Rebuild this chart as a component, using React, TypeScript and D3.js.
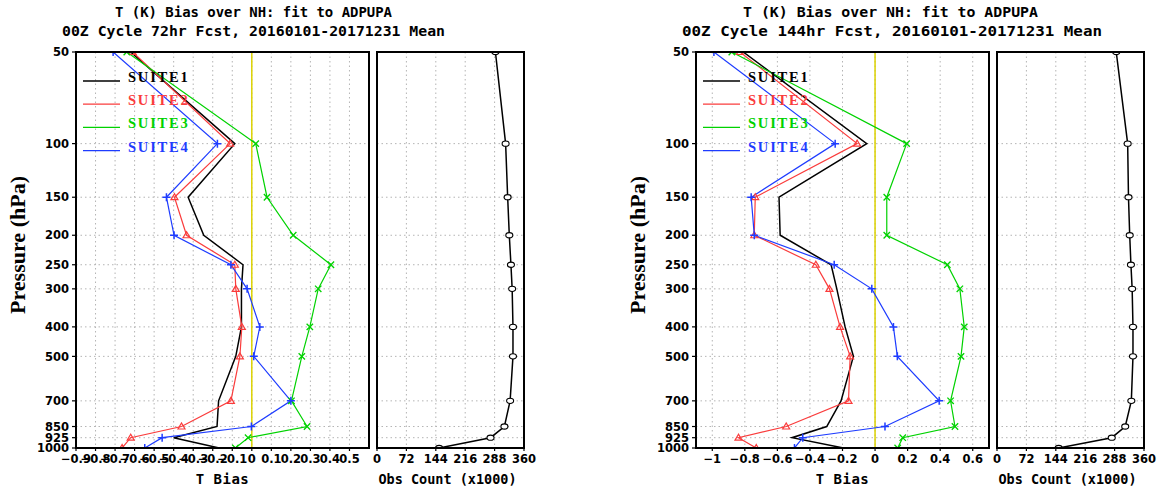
import React from 'react';
import * as d3 from 'd3';

const levels = [50, 100, 150, 200, 250, 300, 400, 500, 700, 850, 925, 1000];
const suiteNames = ['SUITE1', 'SUITE2', 'SUITE3', 'SUITE4'];
const suiteColors = ['#000000', '#fa3c3c', '#00d200', '#1e3cff'];

// 72hr forecast biases (K)
const suite1_72 = [-0.62, -0.087, -0.326, -0.246, -0.045, -0.053, -0.053, -0.082, -0.17, -0.178, -0.40, -0.167];
const suite2_72 = [-0.61, -0.111, -0.396, -0.334, -0.087, -0.082, -0.051, -0.061, -0.107, -0.36, -0.62, -0.664];
const suite3_72 = [-0.64, 0.02, 0.078, 0.212, 0.405, 0.34, 0.297, 0.256, 0.203, 0.283, -0.019, -0.084];
const suite4_72 = [-0.71, -0.176, -0.437, -0.398, -0.107, -0.024, 0.041, 0.010, 0.20, -0.002, -0.459, -0.548];
const obs_72 = [290, 315, 320, 324, 328, 331, 333, 333, 326, 312, 278, 152];

// 144hr forecast biases (K)
const suite1_144 = [-0.81, -0.051, -0.59, -0.583, -0.27, -0.235, -0.184, -0.133, -0.209, -0.297, -0.51, -0.194];
const suite2_144 = [-0.83, -0.11, -0.736, -0.742, -0.364, -0.28, -0.215, -0.153, -0.163, -0.546, -0.839, -0.73];
const suite3_144 = [-0.88, 0.194, 0.072, 0.072, 0.444, 0.521, 0.548, 0.528, 0.464, 0.491, 0.17, 0.139];
const suite4_144 = [-0.99, -0.245, -0.761, -0.742, -0.251, -0.02, 0.113, 0.137, 0.394, 0.061, -0.444, -0.495];
const obs_144 = [292, 320, 322, 325, 328, 331, 333, 333, 329, 314, 281, 151];

const xTicks72 = [-0.9, -0.8, -0.7, -0.6, -0.5, -0.4, -0.3, -0.2, -0.1, 0, 0.1, 0.2, 0.3, 0.4, 0.5];
const xTicks144 = [-1, -0.8, -0.6, -0.4, -0.2, 0, 0.2, 0.4, 0.6];
const obsTicks = [0, 72, 144, 216, 288, 360];

const title1 = 'T (K) Bias over NH: fit to ADPUPA';
const title2_72 = '00Z Cycle 72hr Fcst, 20160101-20171231 Mean';
const title2_144 = '00Z Cycle 144hr Fcst, 20160101-20171231 Mean';

const MONO = '"DejaVu Sans Mono", monospace';
const TICK = '"DejaVu Sans", sans-serif';
const SERIF = '"Liberation Serif", "DejaVu Serif", serif';

function fmt(v: number): string {
  if (Math.abs(v) < 1e-9) return '0';
  const s = String(+v.toFixed(1));
  return s.replace('-', '\u2212');
}

function Marker({ kind, x, y, color }: { kind: number; x: number; y: number; color: string }) {
  if (kind === 1) {
    return <path d={`M${x},${y - 3.5}L${x - 3.5},${y + 2.5}L${x + 3.5},${y + 2.5}Z`} fill="none" stroke={color} strokeWidth={1.2} />;
  }
  if (kind === 2) {
    const s = 3.2;
    return <path d={`M${x - s},${y - s}L${x + s},${y + s}M${x - s},${y + s}L${x + s},${y - s}`} stroke={color} strokeWidth={1.3} />;
  }
  if (kind === 3) {
    const s = 4;
    return <path d={`M${x - s},${y}L${x + s},${y}M${x},${y - s}L${x},${y + s}`} stroke={color} strokeWidth={1.5} />;
  }
  return null;
}

interface ChartProps {
  id: string;
  ox: number;
  t1: string;
  t2: string;
  t1x: [number, number];
  t2x: [number, number];
  xDomain: [number, number];
  xTicks: number[];
  series: number[][];
  obs: number[];
}

function Chart({ id, ox, t1, t2, t1x, t2x, xDomain, xTicks, series, obs }: ChartProps) {
  const top = 52, bottom = 448;
  const bx0 = ox + 76, bx1 = ox + 369;
  const ox0 = ox + 377, ox1 = ox + 524;
  const y = d3.scaleLog().domain([50, 1000]).range([top, bottom]);
  const x = d3.scaleLinear().domain(xDomain).range([bx0, bx1]);
  const xo = d3.scaleLinear().domain([0, 360]).range([ox0, ox1]);
  const line = d3.line<number>().x((d) => x(d)).y((_, i) => y(levels[i]));
  const oline = d3.line<number>().x((d) => xo(d)).y((_, i) => y(levels[i]));
  const grid = '#b4b4b4';

  return (
    <g>
      <defs>
        <clipPath id={`clipb${id}`}><rect x={bx0} y={top} width={bx1 - bx0} height={bottom - top} /></clipPath>
        <clipPath id={`clipo${id}`}><rect x={ox0} y={top} width={ox1 - ox0} height={bottom - top} /></clipPath>
      </defs>
      {/* titles */}
      <text x={t1x[0]} y={17} fontFamily={MONO} fontWeight="bold" fontSize={14} textLength={t1x[1] - t1x[0]} lengthAdjust="spacingAndGlyphs">{t1}</text>
      <text x={t2x[0]} y={36} fontFamily={MONO} fontWeight="bold" fontSize={14} textLength={t2x[1] - t2x[0]} lengthAdjust="spacingAndGlyphs">{t2}</text>

      {/* y label */}
      <text transform={`translate(${ox + 25},${245}) rotate(-90)`} textAnchor="middle" fontFamily={SERIF} fontWeight="bold" fontSize={20} textLength={138} lengthAdjust="spacingAndGlyphs">Pressure (hPa)</text>

      {/* grids */}
      {levels.map((p) => (
        <g key={`gy${p}`}>
          <line x1={bx0} x2={bx1} y1={y(p)} y2={y(p)} stroke={grid} strokeDasharray="1.5,3" />
          <line x1={ox0} x2={ox1} y1={y(p)} y2={y(p)} stroke={grid} strokeDasharray="1.5,3" />
        </g>
      ))}
      {xTicks.map((t) => (
        <line key={`gx${t}`} x1={x(t)} x2={x(t)} y1={top} y2={bottom} stroke={grid} strokeDasharray="1.5,3" />
      ))}
      {obsTicks.slice(1, -1).map((t) => (
        <line key={`go${t}`} x1={xo(t)} x2={xo(t)} y1={top} y2={bottom} stroke={grid} strokeDasharray="1.5,3" />
      ))}

      {/* zero line */}
      <line x1={x(0)} x2={x(0)} y1={top} y2={bottom} stroke="#dcd200" strokeWidth={1.5} />

      {/* series */}
      <g clipPath={`url(#clipb${id})`}>
        {series.map((s, k) => (
          <path key={`s${k}`} d={line(s) || ''} fill="none" stroke={suiteColors[k]} strokeWidth={k === 0 ? 1.5 : 1.2} />
        ))}
        {series.map((s, k) =>
          s.map((v, i) => <Marker key={`m${k}-${i}`} kind={k} x={x(v)} y={y(levels[i])} color={suiteColors[k]} />)
        )}
      </g>

      {/* obs */}
      <g clipPath={`url(#clipo${id})`}>
        <path d={oline(obs) || ''} fill="none" stroke="#000" strokeWidth={1.5} />
        {obs.map((v, i) => (
          <ellipse key={`o${i}`} cx={xo(v)} cy={y(levels[i])} rx={3.5} ry={2.6} fill="#fff" stroke="#000" strokeWidth={1.1} />
        ))}
      </g>

      {/* frames */}
      <rect x={bx0} y={top} width={bx1 - bx0} height={bottom - top} fill="none" stroke="#000" strokeWidth={2} />
      <rect x={ox0} y={top} width={ox1 - ox0} height={bottom - top} fill="none" stroke="#000" strokeWidth={2} />

      {/* y ticks */}
      {levels.map((p) => (
        <g key={`yt${p}`}>
          <line x1={bx0 - 4} x2={bx0} y1={y(p)} y2={y(p)} stroke="#000" strokeWidth={1.2} />
          <text x={bx0 - 7} y={y(p) + 4.2} textAnchor="end" fontFamily={TICK} fontWeight="bold" fontSize={11.5}>{p}</text>
        </g>
      ))}

      {/* x ticks */}
      {xTicks.map((t) => (
        <g key={`xt${t}`}>
          <line x1={x(t)} x2={x(t)} y1={bottom} y2={bottom + 3} stroke="#000" strokeWidth={1.2} />
          <text x={x(t)} y={463} textAnchor="middle" fontFamily={TICK} fontWeight="bold" fontSize={11.5}>{fmt(t)}</text>
        </g>
      ))}
      {obsTicks.map((t) => (
        <g key={`ot${t}`}>
          <line x1={xo(t)} x2={xo(t)} y1={bottom} y2={bottom + 3} stroke="#000" strokeWidth={1.2} />
          <text x={xo(t)} y={463} textAnchor="middle" fontFamily={TICK} fontWeight="bold" fontSize={11.5}>{t}</text>
        </g>
      ))}

      {/* axis titles */}
      <text x={(bx0 + bx1) / 2} y={484} textAnchor="middle" fontFamily={MONO} fontWeight="bold" fontSize={14} letterSpacing={0.5}>T Bias</text>
      <text x={(ox0 + ox1) / 2 - 3} y={484} textAnchor="middle" fontFamily={MONO} fontWeight="bold" fontSize={13.5}>Obs Count (x1000)</text>

      {/* legend */}
      {suiteNames.map((n, k) => {
        const ly = 81 + k * 23.2;
        return (
          <g key={`lg${n}`}>
            <line x1={ox + 83} x2={ox + 120} y1={ly} y2={ly} stroke={suiteColors[k]} strokeWidth={1.3} />
            <text x={ox + 128} y={ly + 1} fontFamily={SERIF} fontWeight="bold" fontSize={14.5} letterSpacing={1.8} fill={suiteColors[k]}>{n}</text>
          </g>
        );
      })}
    </g>
  );
}

export default function App() {
  return (
    <svg width={1162} height={493} style={{ display: 'block', position: 'absolute', left: 0, top: 0, background: '#fff' }}>
      <rect x={0} y={0} width={1162} height={493} fill="#fff" />
      <Chart
        id="a"
        ox={0}
        t1={title1}
        t2={title2_72}
        t1x={[115, 392]}
        t2x={[62, 445]}
        xDomain={[-0.9, 0.6]}
        xTicks={xTicks72}
        series={[suite1_72, suite2_72, suite3_72, suite4_72]}
        obs={obs_72}
      />
      <Chart
        id="b"
        ox={620}
        t1={title1}
        t2={title2_144}
        t1x={[743, 1038]}
        t2x={[682, 1102]}
        xDomain={[-1.1, 0.7]}
        xTicks={xTicks144}
        series={[suite1_144, suite2_144, suite3_144, suite4_144]}
        obs={obs_144}
      />
    </svg>
  );
}
